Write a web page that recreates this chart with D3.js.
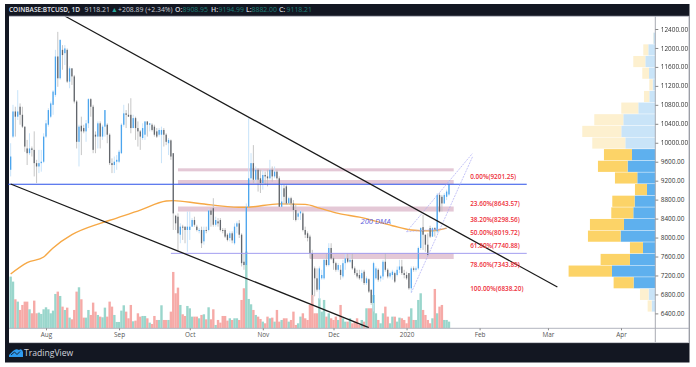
<!DOCTYPE html>
<html>
<head>
<meta charset="utf-8">
<script src="https://cdnjs.cloudflare.com/ajax/libs/d3/7.8.5/d3.min.js"></script>
<style>
html, body { margin: 0; padding: 0; background: #fff; }
svg { display: block; filter: blur(0.35px); font-family: "Open Sans", sans-serif; }
</style>
</head>
<body>
<svg id="chart" width="696" height="367"></svg>
<script>
const startDay = new Date(2019, 6, 17);

const opens = [9430,10130,10660,10550,10760,10590,10340,9880,9780,9880,
9850,9570,9500,9570,9600,10130,10380,10550,10800,11010,
11820,11360,11960,11890,11960,11290,11570,11400,10870,10020,
10360,10310,10240,10410,10920,10760,10170,10130,10410,10130,
10340,10380,10170,9570,9530,9600,9600,9780,10380,10620,
10590,10590,10310,10520,10310,10240,10100,10170,10450,10380,
10380,10340,10240,10170,10170,10270,10170,9990,10050,9780,
8460,8440,8060,8230,8230,8160,8160,8230,8370,8230,
8160,8160,7920,8160,8160,8570,8620,8270,8340,8370,
8160,8160,8060,7990,8090,7880,8230,8300,8060,7490,
7420,8650,9250,9570,9220,9430,9250,9150,9320,9290,
9250,9430,9290,9390,9250,8650,9040,9080,8720,8830,
8720,8580,8440,8510,8510,8160,8090,8020,
7670,7350,7140,6900,7140,7140,7530,7420,7780,7560,
7460,7320,7320,7180,7460,7560,7490,7530,7350,7250,
7210,7140,7280,7040,7120,6900,6620,7140,7320,7140,
7180,7490,7320,7180,7210,7250,7210,7320,7390,7250,
7210,7250,6930,7350,7320,7350,
7780,8220,8060,7850,8200,8020,8200,8130,8900,8860,8720,8860,8908.95];

const highs = [9990,10800,10760,11110,10830,10760,10340,10060,10200,9920,
10240,9640,9850,9850,10200,10480,10730,10870,11110,11960,
12340,12180,12060,12060,11990,11610,11570,11430,10900,10380,
10550,10380,10480,10940,10940,10800,10240,10450,10450,10380,
10690,10410,10200,9670,9710,9740,9850,10410,10800,10690,
10830,10940,10590,10550,10450,10270,10410,10450,10450,10410,
10410,10380,10310,10310,10340,10310,10200,10100,10070,9780,
8480,8510,8300,8270,8230,8550,8550,8410,8440,8270,
8200,8230,8230,8230,8600,8620,8830,8440,8410,8410,
8200,8200,8090,8130,8130,8300,8340,8370,8090,7670,
8720,10520,9780,9950,9500,9460,9430,9430,9390,9430,
9640,9500,9500,9430,9290,9150,9110,9110,8860,8860,
8790,8690,8550,8580,8550,8230,8130,8060,
7740,7390,7350,7390,7320,7560,7670,7880,7880,7600,
7490,7460,7420,7530,7670,7670,7630,7670,7390,7320,
7320,7320,7320,7180,7140,6900,7490,7390,7350,7210,
7530,7670,7350,7280,7320,7280,7390,7530,7530,7320,
7280,7250,7390,7390,7390,7810,
8220,8480,8060,8090,8250,8220,8220,8940,8940,8900,8940,9010,9194.99];

const lows = [9290,10100,10130,10480,10380,10310,9810,9530,9740,9710,
9290,9150,9360,9390,9570,10100,10340,10520,10590,10970,
11180,11330,11540,11640,11260,11150,11220,10830,9880,9500,
9740,10200,10020,10310,10550,9780,9780,9880,9880,10060,
10130,9990,9530,9360,9360,9430,9570,9760,10340,10310,
10550,10200,10310,10060,9920,9850,10060,10060,10130,10240,
10240,10130,10100,10130,9570,9920,9950,9740,9640,8160,
8160,7700,7880,7950,7880,7700,7950,8230,8230,8130,
8090,7780,7850,8090,8130,8230,8230,8230,8230,8130,
8090,7990,7920,7920,7880,7850,8090,7990,7390,7320,
7420,8640,9180,9150,9150,8970,8940,9010,9110,9080,
9220,9180,9250,9220,8650,8640,8720,8690,8690,8650,
8370,8340,8370,8370,8130,7990,7920,7560,
6620,6760,6860,6690,7110,7110,7390,7390,7530,7320,
7280,7280,7110,7140,7320,7460,7460,7320,7210,7140,
7110,7070,7000,7000,6830,6580,6440,7110,7070,7070,
7110,7280,7140,7140,7110,7040,7180,7250,7210,7140,
7110,6900,6840,7280,7280,7320,
7740,7740,7700,7630,7990,8010,8020,8090,8530,8550,8710,8790,8882];

const closes = [9710,10660,10550,10660,10590,10340,9920,9780,9880,9850,
9570,9500,9570,9600,10130,10410,10690,10830,11080,11820,
11360,12170,11850,11990,11290,11570,11400,10870,10020,10340,
10240,10240,10410,10920,10760,9850,10130,10410,10130,10340,
10690,10170,9570,9530,9600,9640,9810,10380,10620,10590,
10550,10310,10520,10310,10240,10130,10310,10450,10380,10410,
10270,10170,10130,10270,10270,10170,10020,10060,9710,8510,
8300,8090,8230,8220,8160,8230,8230,8370,8270,8160,
8160,7880,8160,8150,8570,8480,8270,8370,8300,8160,
8150,8020,7950,8090,7940,8230,8300,8060,7460,7420,
8650,9250,9570,9220,9430,9220,9150,9320,9290,9250,
9430,9290,9390,9250,8650,8760,8860,8720,8830,8720,
8580,8370,8510,8550,8160,8060,7990,7670,
6790,7140,6900,7350,7210,7530,7420,7780,7560,7460,
7320,7420,7210,7460,7560,7490,7530,7350,7250,7180,
7140,7250,7040,7140,6860,6620,7460,7350,7110,7180,
7490,7320,7180,7250,7280,7070,7320,7390,7250,7210,
7140,6930,7350,7320,7350,7780,
8200,8060,7850,7630,8020,8200,8160,8900,8550,8720,8900,8970,9118.21];

// volume in hundreds of BTC
const volumes = [155,140,87,80,55,70,80,80,57,45,
83,45,47,43,57,63,57,45,53,103,
110,97,65,55,62,32,27,55,110,123,
87,32,32,55,40,77,50,40,35,33,
62,35,80,65,40,19,19,53,69,50,
30,70,21,23,45,35,37,37,30,17,
13,37,25,25,69,25,25,25,50,169,
105,122,70,42,37,67,60,35,35,35,
30,40,42,27,63,27,57,10,25,17,
37,37,23,30,25,30,30,25,85,120,
230,88,72,55,40,35,28,20,15,35,
30,32,20,55,20,25,30,30,20,25,
50,10,15,35,45,30,25,70,100,45,
45,90,50,85,35,45,30,25,35,25,
70,30,20,20,30,15,20,30,10,25,
20,60,60,60,100,45,25,15,45,65,
35,15,35,35,20,32,30,25,15,35,
60,25,25,85,105,55,40,25,15,30,
118,45,65,70,25,25,20];

const dmaDates = ["2019-07-17","2019-07-24","2019-07-31","2019-08-04","2019-08-12","2019-08-24","2019-08-31","2019-09-10","2019-09-21","2019-09-24","2019-10-05","2019-10-22","2019-10-25","2019-11-08","2019-11-19","2019-11-25","2019-12-03","2019-12-12","2019-12-26","2020-01-03","2020-01-11","2020-01-18"];
const dmaValues = [7230,7470,7590,7780,8060,8300,8410,8580,8770,8780,8720,8640,8640,8710,8700,8620,8510,8430,8250,8160,8140,8200];

const priceTicks = d3.range(6400, 12401, 400);
const timeTicks = ["2019-08-01","2019-09-01","2019-10-01","2019-11-01","2019-12-01","2020-01-01","2020-02-01","2020-03-01","2020-04-01"];
const timeLabels = ["Aug","Sep","Oct","Nov","Dec","2020","Feb","Mar","Apr"];

const profileUp = [6,21,30,19,8,18,51,96,102,90,70,83,54,25,62,66,94,104,37,76,130,65,20,11];
const profileDown = [1,15,36,20,10,16,51,87,117,99,84,89,67,36,67,66,102,98,39,88,130,60,26,12];
const profileTop = 12322;
const profileStep = 245.6;

const trendLines = [
    [["2019-08-09", 12674], ["2020-03-05", 6956]],
    [["2019-07-17", 9130], ["2019-12-16", 6101]]
];
const channelLines = [
    [["2020-01-01", 8123], ["2020-01-29", 9777]],
    [["2020-01-03", 6836], ["2020-01-29", 9705]],
    [["2020-01-01", 8123], ["2020-01-18", 8190]]
];
const levelLines = [
    {from: "2019-07-16", to: "2020-02-21", price: 9125, color: "#2b50e8", w: 1.1},
    {from: "2019-09-23", to: "2020-02-21", price: 7667, color: "#a29df0", w: 1}
];
const zones = [
    {from: "2019-09-26", to: "2020-01-21", top: 9461, bottom: 9397},
    {from: "2019-09-26", to: "2020-01-21", top: 9214, bottom: 9130},
    {from: "2019-09-26", to: "2020-01-21", top: 8655, bottom: 8549},
    {from: "2019-11-21", to: "2020-01-21", top: 7674, bottom: 7547}
];
const fibPct = ["0.00%","23.60%","38.20%","50.00%","61.80%","78.60%","100.00%"];
const fibPrices = [9201.25,8643.57,8298.56,8019.72,7740.88,7343.89,6838.20];

const parseDay = d3.timeParse("%Y-%m-%d");
const svg = d3.select("#chart");

const x = d3.scaleTime()
    .domain([parseDay("2019-08-01"), parseDay("2020-04-01")])
    .range([46, 621]);
const y = d3.scaleLinear()
    .domain([12400, 6400])
    .range([29, 313.4]);
const volY = d3.scaleLinear()
    .domain([0, 230])
    .range([328.3, 251.6]);
const profX = d3.scaleLinear()
    .domain([0, 260])
    .range([655.3, 568.6]);

const candles = opens.map((o, i) => ({
    date: d3.timeDay.offset(startDay, i),
    o: o, h: highs[i], l: lows[i], c: closes[i], v: volumes[i]
}));

// frame
svg.append("rect").attr("x", 5).attr("y", 4).attr("width", 684.5).attr("height", 358.5).attr("fill", "#131722");
svg.append("rect").attr("x", 9).attr("y", 16).attr("width", 680).attr("height", 327).attr("fill", "#fff");

// volume profile
const rowH = Math.abs(y(0) - y(profileStep));
profileUp.forEach((u, i) => {
    let d = profileDown[i];
    let top = y(profileTop - i * profileStep);
    let solid = i >= 10 && i <= 21;
    svg.append("rect")
        .attr("x", profX(u))
        .attr("y", top)
        .attr("width", profX(0) - profX(u))
        .attr("height", rowH - 0.5)
        .attr("fill", solid ? "#5eb0ee" : "#c9e4f8");
    svg.append("rect")
        .attr("x", profX(u + d))
        .attr("y", top)
        .attr("width", profX(u) - profX(u + d))
        .attr("height", rowH - 0.5)
        .attr("fill", solid ? "#fcd367" : "#fdf0cf");
});

// volume
svg.selectAll("rect.vol")
    .data(candles)
    .enter()
    .append("rect")
    .attr("class", "vol")
    .attr("x", d => x(d.date) - 1.2)
    .attr("y", d => volY(d.v))
    .attr("width", 2.4)
    .attr("height", d => volY(0) - volY(d.v))
    .attr("fill", d => d.c >= d.o ? "#9ad6cc" : "#f6aaa7");

// zones
zones.forEach(z => {
    svg.append("rect")
        .attr("x", x(parseDay(z.from)))
        .attr("y", y(z.top))
        .attr("width", x(parseDay(z.to)) - x(parseDay(z.from)))
        .attr("height", y(z.bottom) - y(z.top))
        .attr("fill", "#e4c8d6");
});

// 200 DMA
let dmaLine = d3.line()
    .x((d, i) => x(parseDay(dmaDates[i])))
    .y(d => y(d))
    .curve(d3.curveMonotoneX);
svg.append("path")
    .attr("d", dmaLine(dmaValues))
    .attr("fill", "none")
    .attr("stroke", "#f6a845")
    .attr("stroke-width", 1.4);

// candles
svg.selectAll("line.wick")
    .data(candles)
    .enter()
    .append("line")
    .attr("class", "wick")
    .attr("x1", d => x(d.date))
    .attr("x2", d => x(d.date))
    .attr("y1", d => y(d.h))
    .attr("y2", d => y(d.l))
    .attr("stroke", d => d.c >= d.o ? "#c2e0f8" : "#c0c0c0")
    .attr("stroke-width", 0.9);
svg.selectAll("rect.body")
    .data(candles)
    .enter()
    .append("rect")
    .attr("class", "body")
    .attr("x", d => x(d.date) - 0.65)
    .attr("y", d => y(Math.max(d.o, d.c)))
    .attr("width", 1.3)
    .attr("height", d => Math.max(1, Math.abs(y(d.o) - y(d.c))))
    .attr("fill", d => d.c >= d.o ? "#4ba5ee" : "#62666c");

// drawings
let priceLine = d3.line()
    .x(d => x(parseDay(d[0])))
    .y(d => y(d[1]));
levelLines.forEach(l => {
    svg.append("path")
        .attr("d", priceLine([[l.from, l.price], [l.to, l.price]]))
        .attr("stroke", l.color)
        .attr("stroke-width", l.w);
});
channelLines.forEach(l => {
    svg.append("path")
        .attr("d", priceLine(l))
        .attr("fill", "none")
        .attr("stroke", "#aaa9f4")
        .attr("stroke-width", 0.7)
        .attr("stroke-dasharray", "2,1");
});
trendLines.forEach(l => {
    svg.append("path")
        .attr("d", priceLine(l))
        .attr("stroke", "#1a1a1a")
        .attr("stroke-width", 1.3);
});

svg.append("text")
    .attr("x", 360.5)
    .attr("y", 224)
    .attr("font-size", 7.6)
    .attr("font-style", "italic")
    .attr("fill", "#5f62dc")
    .text("200 DMA");

svg.selectAll("text.fib")
    .data(fibPrices)
    .enter()
    .append("text")
    .attr("class", "fib")
    .attr("x", x(parseDay("2020-01-28")))
    .attr("y", d => y(d) - 1.4)
    .attr("font-size", 6.4)
    .attr("font-weight", 600)
    .attr("fill", "#ee2f3a")
    .text((d, i) => fibPct[i] + "(" + d.toFixed(2) + ")");

// axes
svg.append("line").attr("x1", 9).attr("x2", 689).attr("y1", 328.3).attr("y2", 328.3).attr("stroke", "#b2b5be");
svg.append("line").attr("x1", 655.3).attr("x2", 655.3).attr("y1", 16).attr("y2", 343).attr("stroke", "#a8abb2");
svg.append("line").attr("x1", 9).attr("x2", 689).attr("y1", 16.3).attr("y2", 16.3).attr("stroke", "#b2b5be");
svg.append("line").attr("x1", 689).attr("x2", 689).attr("y1", 16).attr("y2", 343).attr("stroke", "#b2b5be");
svg.append("line").attr("x1", 9).attr("x2", 689).attr("y1", 342.6).attr("y2", 342.6).attr("stroke", "#c4c6cc");

let priceAxis = d3.axisRight(y)
    .tickValues(priceTicks)
    .tickSize(3)
    .tickPadding(2.5)
    .tickFormat(d3.format(".2f"));
let gy = svg.append("g").attr("transform", "translate(655.3,0)").call(priceAxis);
gy.select(".domain").remove();
gy.selectAll("text").attr("font-size", 6.4).attr("font-family", "Open Sans").attr("fill", "#333");
gy.selectAll("line").attr("stroke", "#888");

let timeAxis = d3.axisBottom(x)
    .tickValues(timeTicks.map(parseDay))
    .tickSize(2)
    .tickPadding(2.5)
    .tickFormat((d, i) => timeLabels[i]);
let gx = svg.append("g").attr("transform", "translate(0,328.3)").call(timeAxis);
gx.select(".domain").remove();
gx.selectAll("text").attr("font-size", 6.4).attr("font-family", "Open Sans").attr("fill", "#555");
gx.selectAll("line").attr("stroke", "#888");

// header
const headerBits = [
    {t: "COINBASE:BTCUSD, 1D", px: 9, c: "#e6e8ee", w: 600, s: 6.5},
    {t: "9118.21", px: 84.5, c: "#c9ccd4", w: 400, s: 6.9},
    {t: "▲", px: 111, c: "#26a69a", w: 400, s: 6.9},
    {t: "+208.89 (+2.34%)", px: 118, c: "#c9ccd4", w: 400, s: 6.9},
    {t: "O:", px: 175, c: "#d1d4dc", w: 600, s: 6.9},
    {t: "8908.95", px: 182.5, c: "#1f7f78", w: 400, s: 6.9},
    {t: "H:", px: 211, c: "#d1d4dc", w: 600, s: 6.9},
    {t: "9194.99", px: 218.5, c: "#1f7f78", w: 400, s: 6.9},
    {t: "L:", px: 246, c: "#d1d4dc", w: 600, s: 6.9},
    {t: "8882.00", px: 251.5, c: "#1f7f78", w: 400, s: 6.9},
    {t: "C:", px: 279, c: "#d1d4dc", w: 600, s: 6.9},
    {t: "9118.21", px: 286.5, c: "#1f7f78", w: 400, s: 6.9}
];
svg.selectAll("text.head")
    .data(headerBits)
    .enter()
    .append("text")
    .attr("class", "head")
    .attr("x", d => d.px)
    .attr("y", 11.8)
    .attr("font-size", d => d.s)
    .attr("font-weight", d => d.w)
    .attr("fill", d => d.c)
    .text(d => d.t);

// footer logo
let logo = svg.append("g").attr("transform", "translate(9,349)");
logo.append("path")
    .attr("d", "M0 6 L4 2 Q7 -1 10 1 Q13 -1 14 3 L14 8 L0 8 Z")
    .attr("fill", "#2f9bf0");
logo.append("path")
    .attr("d", "M2 6 L5.5 3 L8 5.5 L11 2.5")
    .attr("fill", "none")
    .attr("stroke", "#131722")
    .attr("stroke-width", 0.9);
svg.append("text")
    .attr("x", 24)
    .attr("y", 356)
    .attr("font-size", 8.6)
    .attr("fill", "#d1d4dc")
    .text("TradingView");
</script>
</body>
</html>
